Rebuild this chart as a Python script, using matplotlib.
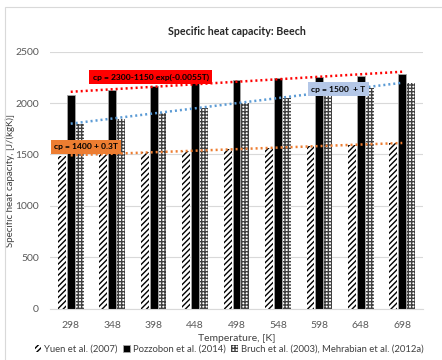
import matplotlib
matplotlib.use("Agg")
import matplotlib.pyplot as plt
import numpy as np
from matplotlib.patches import Rectangle

plt.rcParams['font.family'] = ['Lato', 'DejaVu Sans']
plt.rcParams['hatch.linewidth'] = 1.0

# Temperatures [K] and specific heat capacity [J/(kgK)]
temperatures = [298, 348, 398, 448, 498, 548, 598, 648, 698]
yuen_2007 = [1490, 1505, 1520, 1535, 1550, 1565, 1580, 1595, 1610]
pozzobon_2014 = [2080, 2130, 2170, 2200, 2225, 2245, 2255, 2265, 2280]
bruch_mehrabian = [1800, 1850, 1900, 1950, 2000, 2050, 2100, 2150, 2200]

series_names = ["Yuen et al. (2007)", "Pozzobon et al. (2014)",
                "Bruch et al. (2003), Mehrabian et al. (2012a)"]

# Trend lines: value at first and last temperature
trend_exp = [2110, 2305]     # cp = 2300-1150 exp(-0.0055T)
trend_bruch = [1800, 2198]   # cp = 1500 + T
trend_yuen = [1492, 1612]    # cp = 1400 + 0.3T

trend_labels = ["cp = 2300-1150 exp(-0.0055T)", "cp = 1500  + T", "cp = 1400 + 0.3T"]

fig = plt.figure(figsize=(4.42, 3.6), dpi=100)
fig.patch.set_facecolor('white')

# chart frame
fig.add_artist(Rectangle((5 / 442, -0.1), 1.2, (360 - 7) / 360 + 0.1,
                         transform=fig.transFigure, fill=False,
                         edgecolor='#D9D9D9', lw=0.8))

ax = fig.add_axes([50 / 442, 51.3 / 360, 373 / 442, 257 / 360])
x = np.arange(len(temperatures))
w = 0.19
off = 0.215

ax.bar(x - off, yuen_2007, w, facecolor='white', edgecolor='black',
       hatch='//////', lw=0, zorder=2, label=series_names[0])
ax.bar(x, pozzobon_2014, w, facecolor='black', edgecolor='#A6A6A6',
       lw=0.6, zorder=2, label=series_names[1])
ax.bar(x + off, bruch_mehrabian, w, facecolor='white', edgecolor='#404040',
       hatch='+++++', lw=0, zorder=2, label=series_names[2])

dot = (0, (0.8, 1.2))
xe = [x[0], x[-1]]
ax.plot(xe, trend_exp, color='#FF0000', lw=1.8, ls=dot, zorder=3)
ax.plot(xe, trend_bruch, color='#5B9BD5', lw=1.8, ls=dot, zorder=3)
ax.plot(xe, trend_yuen, color='#ED7D31', lw=1.8, ls=dot, zorder=3)

box_kw = dict(boxstyle='square,pad=0.4', lw=0)
ax.text(1.93, 2254, trend_labels[0], ha='center', va='center', fontsize=6.1,
        fontweight='bold', color='black', zorder=5,
        bbox=dict(facecolor='#FF0000', **box_kw))
ax.text(6.46, 2137, trend_labels[1], ha='center', va='center', fontsize=6.1,
        fontweight='bold', color='black', zorder=5,
        bbox=dict(facecolor='#B4C7E7', **box_kw))
ax.text(0.37, 1573, trend_labels[2], ha='center', va='center', fontsize=6.1,
        fontweight='bold', color='black', zorder=5,
        bbox=dict(facecolor='#ED7D31', **box_kw))

ax.set_xlim(-0.5, len(temperatures) - 0.5)
ax.set_ylim(0, 2500)
ax.set_yticks(np.arange(0, 2501, 500))
ax.set_xticks(x)
ax.set_xticklabels([str(t) for t in temperatures])
ax.yaxis.grid(True, color='#D9D9D9', lw=0.8, zorder=0)
ax.set_axisbelow(True)
for s in ['left', 'right', 'top']:
    ax.spines[s].set_visible(False)
ax.spines['bottom'].set_color('#D9D9D9')
ax.spines['bottom'].set_linewidth(0.8)
ax.tick_params(axis='both', length=0, labelsize=7.5, labelcolor='#595959')
ax.tick_params(axis='y', pad=8)
ax.tick_params(axis='x', pad=9)

ax.set_title("Specific heat capacity: Beech", fontsize=7.7, fontweight='bold',
             color='#262626', pad=12)
ax.set_xlabel("Temperature, [K]", fontsize=7.5, color='#404040', labelpad=3)
ax.set_ylabel("Specific heat capacity, [J/(kgK)]", fontsize=7.0, color='#404040')
ax.yaxis.set_label_coords(-35 / 373, 0.5)

fig.legend(loc='center', bbox_to_anchor=(229 / 442, 11 / 360), ncol=3,
           frameon=False, fontsize=6.8, handlelength=0.7, handleheight=0.7,
           handletextpad=0.3, columnspacing=0.6, labelcolor='#404040')

fig.savefig("out.png", dpi=100, facecolor='white')
